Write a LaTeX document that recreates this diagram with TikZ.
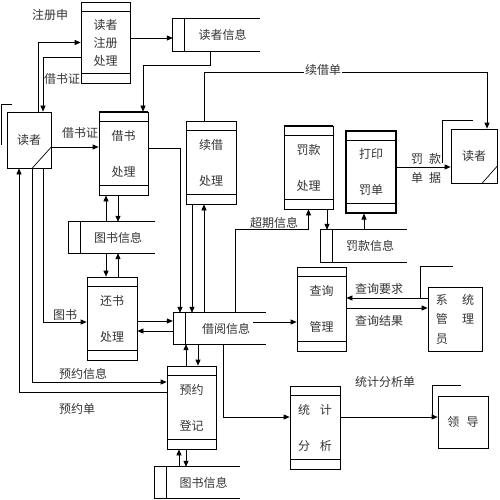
\documentclass[tikz,border=0pt]{standalone}
\usepackage{fontspec}
\newfontfamily\cjk{Noto Sans CJK SC}
\usetikzlibrary{arrows.meta}
\begin{document}
\begin{tikzpicture}[x=1pt,y=-1pt,
  every node/.style={font=\cjk\fontsize{12}{14}\selectfont, text=black!80},
  proc/.style={draw, line width=0.7pt, minimum width=49pt, minimum height=83pt, inner sep=0pt, align=center, font=\cjk\fontsize{12}{36}\selectfont},
  ent/.style={draw, line width=0.7pt, inner sep=0pt, align=center},
  store/.style={inner sep=0pt},
  arr/.style={line width=0.7pt, -{Triangle[length=6pt,width=5pt]}},
  ln/.style={line width=0.7pt},
  lbl/.style={inner sep=1pt}
]
\useasboundingbox (0,0) rectangle (500,500);

% processes
\node[proc, minimum height=81pt, font=\cjk\fontsize{12}{18}\selectfont] (reg) at (105.5,42.5) {读者\\注册\\处理};
\node[proc] (jie) at (123.5,153.5) {借书\\处理};
\node[proc, minimum width=50pt] (xu) at (211,162.5) {续借\\处理};
\node[proc] (fkc) at (308.5,167.5) {罚款\\处理};
\node[proc, minimum width=50pt, minimum height=82pt, line width=1.1pt] (dy) at (371,172) {打印\\罚单};
\node[proc, minimum width=50pt] (hs) at (112,318.5) {还书\\处理};
\node[proc, minimum height=84pt] (cx) at (321.5,309) {查询\\管理};
\node[proc] (yy) at (191.5,407.5) {预约\\登记};
\node[proc, minimum width=50pt] (tj) at (315,427.5) {统\hspace{0.8em}计\\分\hspace{0.8em}析};
\foreach \n in {reg,jie,xu,fkc,dy,hs,cx,yy,tj}
  \draw[ln] ([yshift=-10pt]\n.north west) -- ([yshift=-10pt]\n.north east)
            ([yshift=10pt]\n.south west) -- ([yshift=10pt]\n.south east);
\foreach \n in {jie,fkc}
  \draw[line width=1.4pt] (\n.north west) -- (\n.north east);

% external entities
\node[ent, minimum width=44pt, minimum height=56pt] (rd1) at (29,140) {读者};
\node[ent, minimum width=46pt, minimum height=54pt] (rd2) at (474,156) {读者};
\node[ent, minimum width=54pt, minimum height=64pt, align=left, font=\cjk\fontsize{12}{19.5}\selectfont] (adm) at (455,319) {系\hspace{1.2em}统\\管\hspace{1.2em}理\\员};
\node[ent, minimum width=50pt, minimum height=52pt] (ld) at (463,422) {领\hspace{0.6em}导};
\draw[ln] ([xshift=3pt]rd1.south) -- ([yshift=-7pt]rd1.east);
\draw[ln] ([xshift=8pt]rd2.south) -- ([yshift=-10pt]rd2.east);
\draw[ln] ([shift={(-5,33)}]rd1.north west) -- ([shift={(-5,-7)}]rd1.north west) -- ([shift={(5,-7)}]rd1.north west);
\draw[ln] ([shift={(-8,34)}]rd2.north west) -- ([shift={(-8,-8)}]rd2.north west) -- ([shift={(22,-8)}]rd2.north west);
\draw[ln] ([shift={(-7,11)}]adm.north west) -- ([shift={(-7,-20)}]adm.north west) -- ([shift={(25,-20)}]adm.north west);
\draw[ln] ([shift={(-5,21)}]ld.north west) -- ([shift={(-5,-10)}]ld.north west) -- ([shift={(23,-10)}]ld.north west);

% data stores
\node[store, minimum width=75pt, minimum height=32pt] (dzxx) at (222.5,35) {读者信息};
\node[store, minimum width=74pt, minimum height=31pt] (ts1) at (118,237.5) {图书信息};
\node[store, minimum width=80pt, minimum height=31pt] (jy) at (226,328.5) {借阅信息};
\node[store, minimum width=74pt, minimum height=32pt] (fk) at (370,246) {罚款信息};
\node[store, minimum width=73pt, minimum height=31pt] (ts2) at (203.5,482.5) {图书信息};
\foreach \n in {dzxx,ts1,jy,fk,ts2}
  \draw[ln] (\n.north east) -- ([xshift=-12pt]\n.north west) -- ([xshift=-12pt]\n.south west) -- (\n.south east)
            (\n.north west) -- (\n.south west);

% connectors
\draw[arr] ([xshift=9pt]rd1.north) |- (reg.west);
\draw[arr] ([yshift=-14.5pt]reg.west) -| ([xshift=14pt]rd1.north);
\coordinate (p1) at ([yshift=4.5pt]reg.east);
\coordinate (dzL) at ([xshift=-12pt]dzxx.west);
\draw[arr] (p1) -- (p1 -| dzL);
\draw[arr] ([xshift=-12.5pt]dzxx.south) -- ++(0,14) -| ([xshift=19.5pt]jie.north);
\coordinate (p2) at ([yshift=-7pt]rd1.east);
\draw[arr] (p2) -- (p2 -| jie.west);
\coordinate (a1) at ([xshift=-17.5pt]jie.south);
\draw[arr] (a1 |- ts1.north) -- (a1);
\coordinate (a2) at ([xshift=-5.5pt]jie.south);
\draw[arr] (a2) -- (a2 |- ts1.north);
\coordinate (b1) at ([xshift=-6pt]hs.north);
\draw[arr] (b1 |- ts1.south) -- (b1);
\coordinate (b2) at ([xshift=6pt]hs.north);
\draw[arr] (b2) -- (b2 |- ts1.south);
\coordinate (c1) at ([xshift=-46pt]jy.north);
\draw[arr] ([yshift=5.5pt]jie.east) -| (c1);
\coordinate (c2) at ([xshift=-19pt]xu.south);
\draw[arr] (c2) -- (c2 |- jy.north);
\coordinate (c3) at ([xshift=-7pt]xu.south);
\draw[arr] (c3 |- jy.north) -- (c3);
\coordinate (c4) at ([xshift=9pt]jy.north);
\draw[arr] (c4) -- (c4 |- fk.north) -| (fkc.south);
\coordinate (d1) at ([xshift=18.5pt]fkc.south);
\draw[arr] (d1) -- (d1 |- fk.north);
\coordinate (d2) at ([xshift=-7pt]dy.south);
\draw[arr] (d2 |- fk.north) -- (d2);
\coordinate (d3) at ([yshift=5pt]dy.east);
\draw[arr] (d3) -- (d3 -| rd2.west);
\coordinate (e1) at ([xshift=-7pt]xu.north);
\coordinate (e2) at ([xshift=13pt]rd2.north);
\draw[arr] (e1) -- ++(0,-48) -| (e2);
\coordinate (jyL) at ([xshift=-13pt]jy.west);
\coordinate (f1) at ([yshift=-2.5pt]hs.east);
\draw[arr] (f1) -- (f1 -| jyL);
\coordinate (f2) at ([yshift=-12.5pt]hs.east);
\draw[arr] (f2 -| jyL) -- (f2);
\draw[arr] ([xshift=14pt]rd1.south) |- ([yshift=-3.5pt]hs.west);
\coordinate (y1) at ([xshift=-5.5pt]yy.north);
\draw[arr] (y1) -- (y1 |- jy.south);
\coordinate (y2) at ([xshift=6.5pt]yy.north);
\draw[arr] (y2 |- jy.south) -- (y2);
\draw[arr] ([xshift=3pt]rd1.south) |- ([yshift=25.5pt]yy.west);
\draw[arr] ([yshift=15.5pt]yy.west) -| ([xshift=-10pt]rd1.south);
\coordinate (y3) at ([xshift=-12.5pt]yy.south);
\draw[arr] (y3 |- ts2.north) -- (y3);
\coordinate (y4) at ([xshift=-5.5pt]yy.south);
\draw[arr] (y4) -- (y4 |- ts2.north);
\draw[arr] ([xshift=-3pt]jy.south) |- ([yshift=10.5pt]tj.west);
\coordinate (t1) at ([yshift=10.5pt]tj.east);
\draw[arr] (t1) -- (t1 -| ld.west);
\coordinate (g0) at ([xshift=-13pt]jy.east);
\coordinate (g1) at ([yshift=-13pt]cx.west);
\draw[arr] (g0 |- g1) -- (g1);
\coordinate (h1) at ([yshift=21pt]adm.west);
\draw[arr] (h1) -- (h1 -| cx.east);
\coordinate (h2) at ([yshift=11pt]adm.west);
\draw[arr] (h2 -| cx.east) -- (h2);

% labels
\node[lbl] (l1) at (50,15) {注册申};
\node[lbl] (l2) at (62,79) {借书证};
\node[lbl] (l3) at (80,133) {借书证};
\node[lbl] (l4) at (65,315) {图书};
\node[lbl] (l5) at (83,374) {预约信息};
\node[lbl] (l6) at (77,409) {预约单};
\node[lbl] (l7) at (274,223) {超期信息};
\node[lbl, fill=white] (l8) at (323,70) {续借单};
\node[lbl] (l9) at (426,159) {罚\hspace{0.5em}款};
\node[lbl] (l10) at (426,178) {单\hspace{0.5em}据};
\node[lbl] (l11) at (379,289) {查询要求};
\node[lbl] (l12) at (379,321) {查询结果};
\node[lbl] (l13) at (385,382) {统计分析单};
\end{tikzpicture}
\end{document}
